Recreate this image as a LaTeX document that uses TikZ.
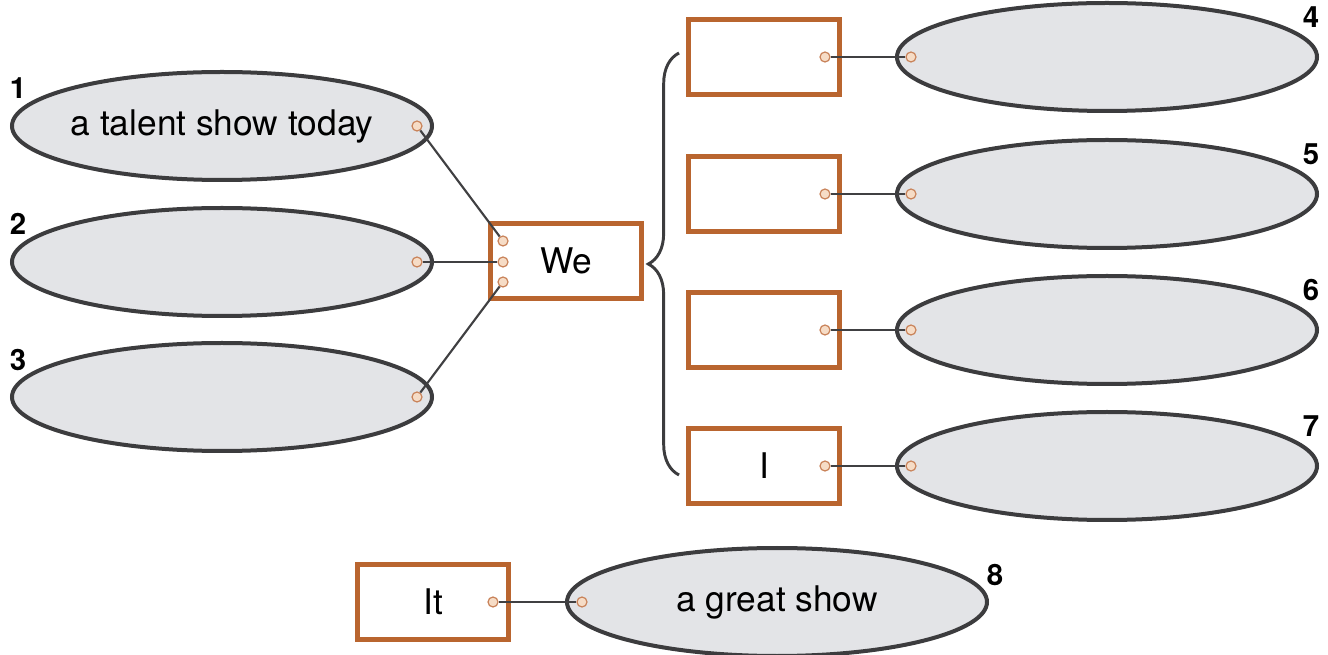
\documentclass[tikz,border=0pt]{standalone}
\usepackage{fontspec}
\setmainfont{TeX Gyre Heros}
\usetikzlibrary{shapes.geometric,decorations.pathreplacing}
\definecolor{ovalfill}{HTML}{E3E4E7}
\definecolor{ovalline}{HTML}{3C3C3E}
\definecolor{boxline}{HTML}{B9652F}
\definecolor{pinfill}{HTML}{F6DCC6}
\definecolor{pinline}{HTML}{C9835A}
\definecolor{linkline}{HTML}{404042}

\begin{document}
\begin{tikzpicture}[x=0.75pt, y=-0.75pt,
  oval/.style={ellipse, draw=ovalline, fill=ovalfill, line width=3pt,
    minimum width=315pt, minimum height=81pt, inner xsep=-20pt, inner ysep=0pt,
    font=\fontsize{26.5}{30}\selectfont},
  slot/.style={rectangle, draw=boxline, fill=white, line width=4.2pt,
    minimum width=113pt, minimum height=56pt, inner sep=0pt,
    font=\fontsize{26.5}{30}\selectfont},
  pin/.style={circle, draw=pinline, fill=pinfill, line width=0.9pt,
    minimum size=7.5pt, inner sep=0pt},
  num/.style={font=\bfseries\fontsize{22}{26}\selectfont, inner sep=0pt},
  link/.style={draw=linkline, line width=1.6pt}]
  \useasboundingbox (0,0) rectangle (1328,655);
  % Left column: three ovals feeding "We"
  \node[oval] (o1) at (222,126) {a talent show today};
  \node[oval] (o2) at (222,262) {};
  \node[oval] (o3) at (222,397) {};
  \node[num] (n1) at (18,88) {1};
  \node[num] (n2) at (18,224) {2};
  \node[num] (n3) at (18,360) {3};
  \node[slot] (we) at (566,261) {We};
  \node[pin] (p1) at (417,126) {};
  \node[pin] (p2) at (417,262) {};
  \node[pin] (p3) at (417,397) {};
  \node[pin] (w1) at (503,241) {};
  \node[pin] (w2) at (503,262) {};
  \node[pin] (w3) at (503,282) {};
  \draw[link] (p1) -- (w1);
  \draw[link] (p2) -- (w2);
  \draw[link] (p3) -- (w3);
  % Brace towards the right column
  \draw[ovalline, line width=2.2pt, decorate,
    decoration={brace, amplitude=23pt, aspect=0.5}] (679,475) -- (679,53);
  % Right column: box, oval and number per row
  \foreach \n/\y/\txt in {4/57/{}, 5/194/{}, 6/330/{}, 7/466/I} {
    \node[slot] (s\n) at (764,\y) {\txt};
    \node[oval] (o\n) at (1107,\y) {};
    \node[num] (n\n) at (1311,\y-40) {\n};
    \node[pin] (sp\n) at (825,\y) {};
    \node[pin] (op\n) at (911,\y) {};
    \draw[link] (sp\n) -- (op\n);
  }
  % Bottom row
  \node[slot] (it) at (433,602) {It};
  \node[oval] (o8) at (777,602) {a great show};
  \node[num] (n8) at (995,575) {8};
  \node[pin] (ip) at (493,602) {};
  \node[pin] (op8) at (582,602) {};
  \draw[link] (ip) -- (op8);
\end{tikzpicture}
\end{document}
